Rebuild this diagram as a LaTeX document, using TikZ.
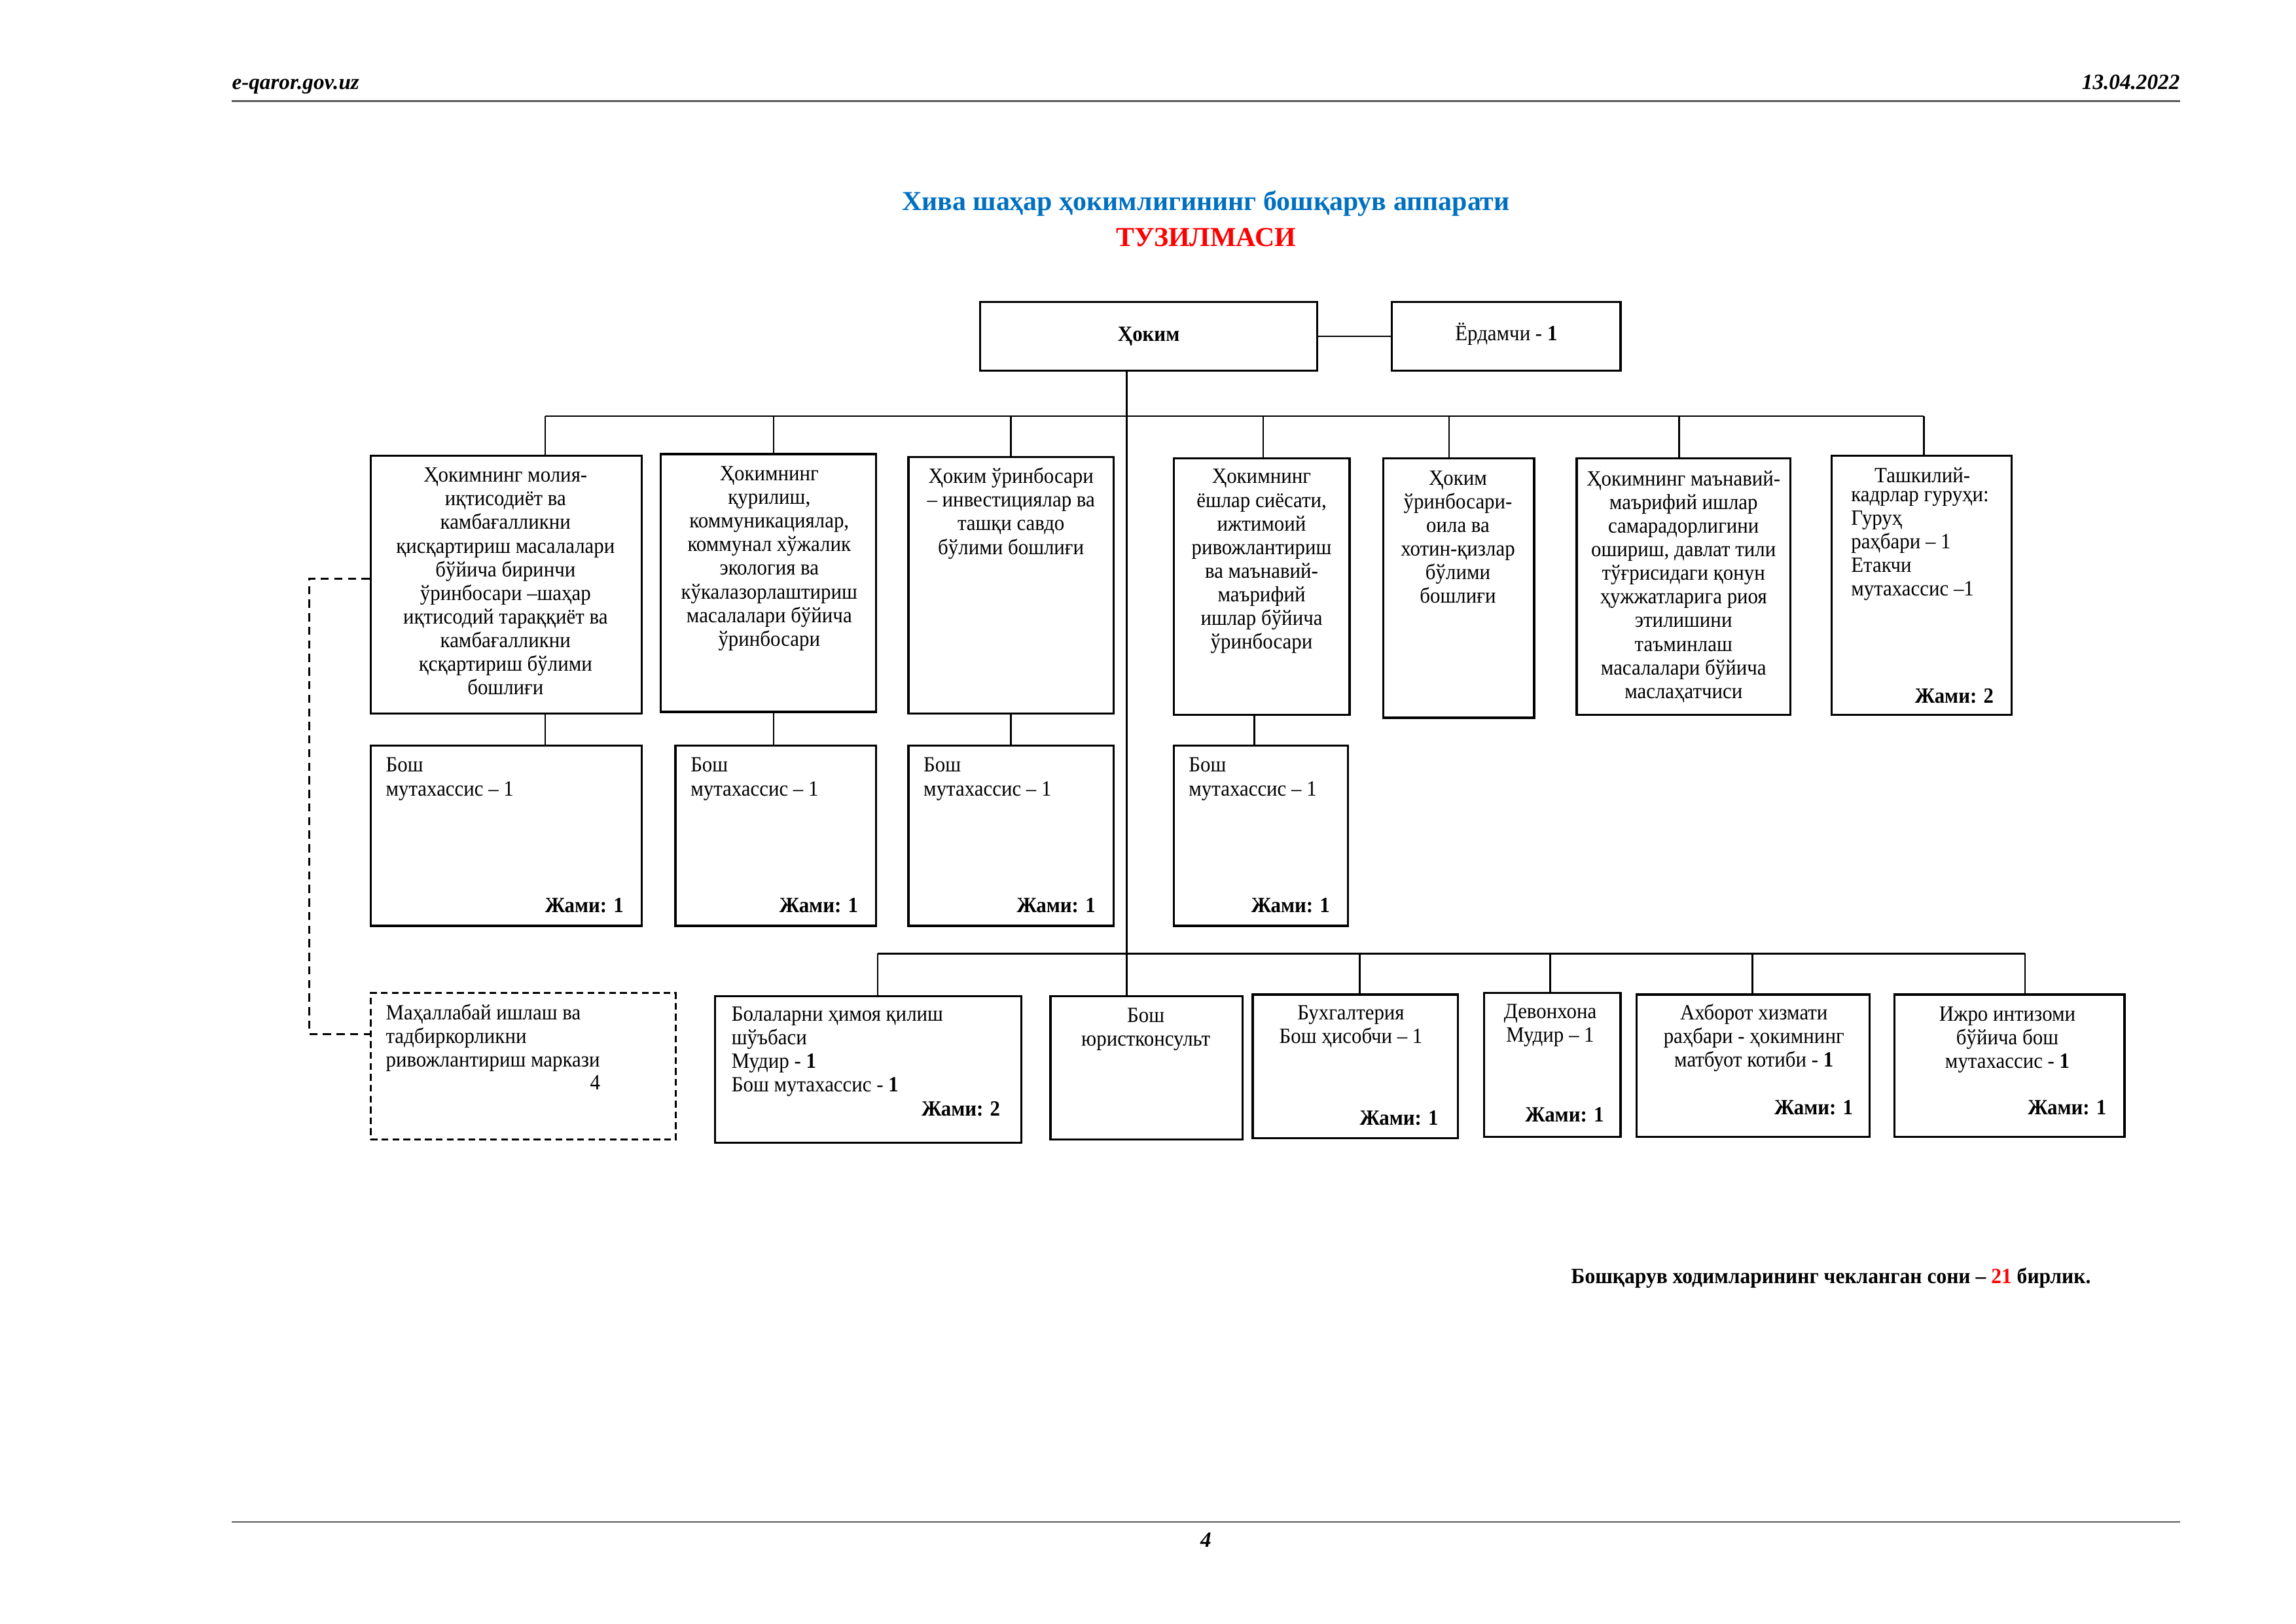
\documentclass[tikz,border=0pt]{standalone}
\usepackage{fontspec}
\setmainfont{Liberation Serif}
\newfontfamily\boxfont{Liberation Serif}[FakeStretch=0.93]
\newfontfamily\sumfont{Liberation Serif}[FakeStretch=0.95]
\usetikzlibrary{fit}
\definecolor{titleblue}{RGB}{0,112,192}
\definecolor{titlered}{RGB}{255,0,0}
\definecolor{rulegray}{RGB}{90,90,90}
\tikzset{
  box/.style={draw, line width=0.8pt, inner sep=0pt},
  dbox/.style={draw, line width=0.7pt, inner sep=0pt, dash pattern=on 2.5pt off 1.5pt},
  link/.style={line width=0.6pt},
  txt/.style={font=\boxfont\fontsize{8}{8.7}\selectfont, inner sep=0pt, align=center, anchor=north},
  ltxt/.style={txt, align=left, anchor=north west},
  total/.style={font=\boxfont\fontsize{8}{8.7}\selectfont\bfseries, inner sep=0pt, anchor=base east},
}

\begin{document}
\begin{tikzpicture}[x=0.189534mm, y=-0.189534mm]
\useasboundingbox (0,0) rectangle (1567,1108.25);

\node[inner sep=0pt, anchor=base west, font=\fontsize{8}{9}\selectfont\bfseries\itshape] (site) at (158,61) {e-qaror.gov.uz};
\node[inner sep=0pt, anchor=base east, font=\fontsize{8}{9}\selectfont\bfseries\itshape] (date) at (1488,61) {13.04.2022};
\draw[rulegray, line width=0.6pt] (158,69) -- (1488,69);
\draw[rulegray, line width=0.6pt] (158,1039) -- (1488,1039);
\node[inner sep=0pt, anchor=base, font=\fontsize{8}{9}\selectfont\bfseries\itshape] (page) at (823,1056) {4};

\node[inner sep=0pt, font=\fontsize{10.1}{12}\selectfont\bfseries, text=titleblue] (title) at (823,139) {Хива шаҳар ҳокимлигининг бошқарув аппарати};
\node[inner sep=0pt, font=\fontsize{10.1}{12}\selectfont\bfseries, text=titlered] (subtitle) at (823,162) {ТУЗИЛМАСИ};

\node[box, fit={(669,206) (899,253)}] (hokim) {};
\node[font=\boxfont\fontsize{8}{8.7}\selectfont\bfseries, inner sep=0pt] at (hokim) {Ҳоким};
\node[box, fit={(950,206) (1106,253)}] (yord) {};
\node[font=\boxfont\fontsize{8}{8.7}\selectfont, inner sep=0pt] at (1028,228) {Ёрдамчи - \textbf{1}};
\draw[link] (hokim) -- (yord);

\node[box, fit={(253,311) (438,487)}] (d1) {};
\node[box, fit={(451,310) (598,486)}] (d2) {};
\node[box, fit={(620,312) (760,487)}] (d3) {};
\node[box, fit={(801,313) (921,488)}] (d4) {};
\node[box, fit={(944,313) (1047,490)}] (d5) {};
\node[box, fit={(1076,313) (1222,488)}] (d6) {};
\node[box, fit={(1250,311) (1373,488)}] (d7) {};

\node[txt] at (345,319) {Ҳокимнинг молия-\\иқтисодиёт ва\\камбағалликни\\қисқартириш масалалари\\бўйича биринчи\\ўринбосари –шаҳар\\иқтисодий тараққиёт ва\\камбағалликни\\қсқартириш бўлими\\бошлиғи};
\node[txt] at (525,318) {Ҳокимнинг\\қурилиш,\\коммуникациялар,\\коммунал хўжалик\\экология ва\\кўкалазорлаштириш\\масалалари бўйича\\ўринбосари};
\node[txt] at (690,319) {Ҳоким ўринбосари\\– инвестициялар ва\\ташқи савдо\\бўлими бошлиғи};
\node[txt] at (861,320) {Ҳокимнинг\\ёшлар сиёсати,\\ижтимоий\\ривожлантириш\\ва маънавий-\\маърифий\\ишлар бўйича\\ўринбосари};
\node[txt] at (995,321) {Ҳоким\\ўринбосари-\\оила ва\\хотин-қизлар\\бўлими\\бошлиғи};
\node[txt] at (1149,321) {Ҳокимнинг маънавий-\\маърифий ишлар\\самарадорлигини\\ошириш, давлат тили\\тўғрисидаги қонун\\ҳужжатларига риоя\\этилишини\\таъминлаш\\масалалари бўйича\\маслаҳатчиси};
\node[txt] at (1312,319) {Ташкилий-};
\node[ltxt] at (1263,335) {кадрлар гуруҳи:\\Гуруҳ\\раҳбари – 1\\Етакчи\\мутахассис –1};
\node[total] at (1361,480) {Жами: 2};

\foreach \x/\n in {372/d1, 528/d2, 690/d3, 862/d4, 989/d5, 1146/d6, 1313/d7} {
  \coordinate (b\n) at (\x,284);
  \draw[link] (b\n) -- (b\n |- \n.north);
}
\draw[link] (bd1) -- (bd7);

\foreach \n/\xa/\xb/\xd/\up in {s1/253/438/372/d1, s2/461/598/528/d2, s3/620/760/690/d3, s4/801/920/856/d4} {
  \node[box, fit={(\xa,509) (\xb,632)}] (\n) {};
  \node[ltxt] at (\xa+10,517) {Бош\\мутахассис – 1};
  \node[total] at (\xb-12,623) {Жами: 1};
  \coordinate (k\n) at (\xd,498);
  \draw[link] (k\n |- \up.south) -- (k\n |- \n.north);
}

\node[dbox, fit={(253,678) (461,778)}] (mah) {};
\node[box, fit={(488,680) (697,780)}] (r1) {};
\node[box, fit={(717,680) (848,778)}] (jur) {};
\node[box, fit={(855,679) (995,777)}] (r3) {};
\node[box, fit={(1013,678) (1106,776)}] (r4) {};
\node[box, fit={(1117,679) (1276,776)}] (r5) {};
\node[box, fit={(1293,679) (1450,776)}] (r6) {};

\node[ltxt] at (263,685) {Маҳаллабай ишлаш ва\\тадбиркорликни\\ривожлантириш маркази};
\node[inner sep=0pt, anchor=base east, font=\boxfont\fontsize{8}{8.7}\selectfont] at (410,744) {4};
\node[ltxt] at (499,687) {Болаларни ҳимоя қилиш\\шўъбаси\\Мудир - \textbf{1}\\Бош мутахассис - \textbf{1}};
\node[total] at (683,762) {Жами: 2};
\node[txt] at (782,688) {Бош\\юристконсульт};
\node[txt] at (922,686) {Бухгалтерия\\Бош ҳисобчи – 1};
\node[total] at (982,768) {Жами: 1};
\node[txt] at (1058,685) {Девонхона\\Мудир – 1};
\node[total] at (1095,766) {Жами: 1};
\node[txt] at (1197,685) {Ахборот хизмати\\раҳбари - ҳокимнинг\\матбуот котиби - \textbf{1}};
\node[total] at (1265,761) {Жами: 1};
\node[txt] at (1370,687) {Ижро интизоми\\бўйича бош\\мутахассис - \textbf{1}};
\node[total] at (1438,761) {Жами: 1};

\coordinate (trunk) at (769,651);
\draw[link] (hokim.south -| trunk) -- (trunk |- jur.north);
\foreach \x/\n in {599/r1, 928/r3, 1058/r4, 1196/r5, 1382/r6} {
  \coordinate (c\n) at (\x,651);
  \draw[link] (c\n) -- (c\n |- \n.north);
}
\draw[link] (cr1) -- (cr6);

\coordinate (dl1) at (211,395);
\coordinate (dl2) at (211,706);
\draw[link, dash pattern=on 3pt off 2pt] (d1.west |- dl1) -- (dl1) -- (dl2) -- (mah.west |- dl2);

\node[inner sep=0pt, anchor=base west, font=\sumfont\fontsize{8}{9}\selectfont\bfseries] (sum) at (1072,876) {Бошқарув ходимларининг чекланган сони – \textcolor{titlered}{21} бирлик.};
\end{tikzpicture}
\end{document}
